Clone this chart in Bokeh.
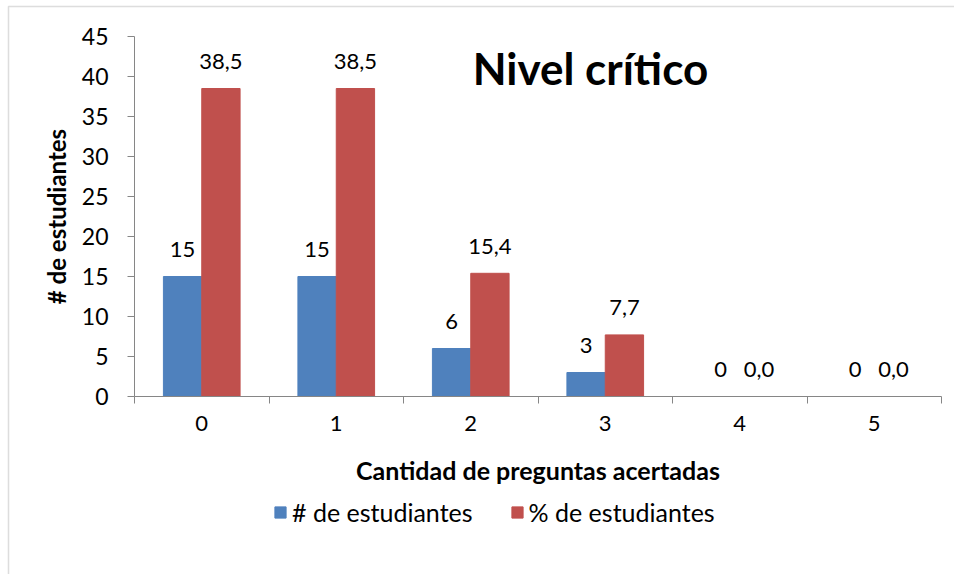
from bokeh.plotting import figure
from bokeh.models import (ColumnDataSource, FixedTicker, Legend, LegendItem,
                          Label, Range1d, BoxAnnotation)
from bokeh.core.properties import value
from bokeh.embed import file_html
from bokeh.resources import INLINE

# Data
categories = ["0", "1", "2", "3", "4", "5"]
num_students = [15, 15, 6, 3, 0, 0]
pct_students = [38.5, 38.5, 15.4, 7.7, 0.0, 0.0]
series_names = ["# de estudiantes", "% de estudiantes"]
y_ticks = [0, 5, 10, 15, 20, 25, 30, 35, 40, 45]

FONT = "Lato"
BLUE = "#4F81BD"
RED = "#C0504D"
AXIS_GREY = "#868686"

W, H = 954, 574
# plot area in canvas pixels; the frame spans the whole canvas so that the
# axes, legend and outer border can all be placed freely
AREA_L, AREA_R, AREA_T, AREA_B = 134, 941, 36, 396
Y_MAX = 45

n = len(categories)
centers = [i + 0.5 for i in range(n)]
bar_w = 0.285

px_x = (AREA_R - AREA_L) / n
px_y = (AREA_B - AREA_T) / Y_MAX
x_range = Range1d(-AREA_L / px_x, n + (W - AREA_R) / px_x)
y_range = Range1d(-(H - AREA_B) / px_y, Y_MAX + AREA_T / px_y)

src_a = ColumnDataSource(dict(
    x=[c - bar_w / 2 for c in centers], top=num_students,
    label=[str(v) for v in num_students]))
src_b = ColumnDataSource(dict(
    x=[c + bar_w / 2 for c in centers], top=pct_students,
    label=[f"{v:.1f}".replace(".", ",") for v in pct_students]))

p = figure(width=W, height=H, output_backend="svg", toolbar_location=None,
           x_range=x_range, y_range=y_range,
           min_border=0, min_border_left=0, min_border_right=0,
           min_border_top=0, min_border_bottom=0)
p.outline_line_color = None
p.grid.grid_line_color = None
p.background_fill_color = "white"
p.border_fill_color = "white"

r_a = p.vbar(x="x", top="top", width=bar_w, source=src_a,
             fill_color=BLUE, line_color=BLUE)
r_b = p.vbar(x="x", top="top", width=bar_w, source=src_b,
             fill_color=RED, line_color=RED)

# value labels above bars
for src in (src_a, src_b):
    p.text(x="x", y="top", text="label", source=src,
           text_align="center", text_baseline="middle", y_offset=-27,
           text_font=value(FONT), text_font_size="22px", text_color="black")

# x axis: labels at category centres, tick marks at boundaries
xa = p.xaxis[0]
xa.fixed_location = 0
xa.bounds = (0, n)
xa.ticker = FixedTicker(ticks=centers, minor_ticks=list(range(n + 1)))
xa.major_label_overrides = {c: lab for c, lab in zip(centers, categories)}
xa.major_tick_line_color = None
xa.minor_tick_line_color = AXIS_GREY
xa.minor_tick_out = 7
xa.minor_tick_in = 0
xa.axis_line_color = AXIS_GREY
xa.major_label_standoff = 12
xa.major_label_text_font = FONT
xa.major_label_text_font_size = "22px"
xa.major_label_text_color = "black"
xa.axis_label = "Cantidad de preguntas acertadas"
xa.axis_label_text_font = FONT
xa.axis_label_text_font_style = "bold"
xa.axis_label_text_font_size = "25px"
xa.axis_label_text_color = "black"
xa.axis_label_standoff = 21

ya = p.yaxis[0]
ya.fixed_location = 0
ya.bounds = (0, Y_MAX)
ya.ticker = FixedTicker(ticks=y_ticks, minor_ticks=[])
ya.major_tick_out = 7
ya.major_tick_in = 0
ya.major_tick_line_color = AXIS_GREY
ya.axis_line_color = AXIS_GREY
ya.major_label_standoff = 19
ya.major_label_text_font = FONT
ya.major_label_text_font_size = "23px"
ya.major_label_text_color = "black"
ya.axis_label = "# de estudiantes"
ya.axis_label_text_font = FONT
ya.axis_label_text_font_style = "bold"
ya.axis_label_text_font_size = "24px"
ya.axis_label_text_color = "black"
ya.axis_label_standoff = 8

# chart title inside the plot area
p.add_layout(Label(x=3.39, y=41.1, text="Nivel crítico", text_font=FONT,
                   text_font_size="44px", text_font_style="bold",
                   text_align="center", text_baseline="middle",
                   text_color="black"))

legend = Legend(items=[LegendItem(label=series_names[0], renderers=[r_a]),
                       LegendItem(label=series_names[1], renderers=[r_b])],
                orientation="horizontal", location=(273, 47),
                glyph_width=14, glyph_height=14, label_height=24,
                label_standoff=5, spacing=37, padding=0, margin=0,
                border_line_color=None, background_fill_alpha=0,
                label_text_font=FONT, label_text_font_size="25px",
                label_text_color="black")
p.add_layout(legend, "center")

# outer chart border
p.add_layout(BoxAnnotation(left=8, right=W + 20, top=6, bottom=H + 20,
                           left_units="canvas", right_units="canvas",
                           top_units="canvas", bottom_units="canvas",
                           fill_alpha=0, line_color="#8f8f8f", line_width=1.5))

open("out.html", "w").write(file_html(p, INLINE))
